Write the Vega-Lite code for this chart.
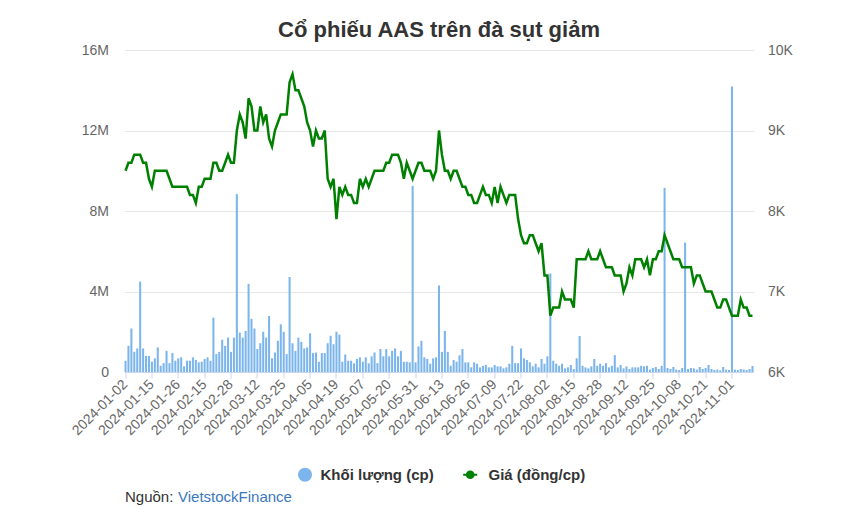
{
"$schema":"https://vega.github.io/schema/vega-lite/v6.json",
"width":629,"height":322,
"autosize":{"type":"none"},
"padding":{"left":124.5,"top":50,"right":92.5,"bottom":160},
"background":"white",
"title":{"text":"Cổ phiếu AAS trên đà sụt giảm","fontSize":22,"font":"Liberation Sans","fontWeight":"bold","color":"#333333","anchor":"middle","offset":14,"baseline":"alphabetic","dy":30},
"config":{"view":{"stroke":null},"font":"Liberation Sans"},
"data":{"values":[
{"d":"2024-01-02","v":560000,"p":8500},{"d":"2024-01-03","v":1300000,"p":8600},{"d":"2024-01-04","v":2160000,"p":8600},{"d":"2024-01-05","v":1000000,"p":8700},{"d":"2024-01-08","v":1170000,"p":8700},{"d":"2024-01-09","v":4490000,"p":8700},{"d":"2024-01-10","v":1170000,"p":8600},{"d":"2024-01-11","v":800000,"p":8600},{"d":"2024-01-12","v":800000,"p":8400},{"d":"2024-01-15","v":510000,"p":8300},
{"d":"2024-01-16","v":680000,"p":8500},{"d":"2024-01-17","v":1220000,"p":8500},{"d":"2024-01-18","v":310000,"p":8500},{"d":"2024-01-19","v":440000,"p":8500},{"d":"2024-01-22","v":1050000,"p":8500},{"d":"2024-01-23","v":440000,"p":8400},{"d":"2024-01-24","v":940000,"p":8300},{"d":"2024-01-25","v":560000,"p":8300},{"d":"2024-01-26","v":680000,"p":8300},{"d":"2024-01-29","v":730000,"p":8300},
{"d":"2024-01-30","v":280000,"p":8300},{"d":"2024-01-31","v":560000,"p":8300},{"d":"2024-02-01","v":560000,"p":8200},{"d":"2024-02-02","v":730000,"p":8200},{"d":"2024-02-05","v":600000,"p":8100},{"d":"2024-02-06","v":480000,"p":8300},{"d":"2024-02-07","v":510000,"p":8300},{"d":"2024-02-15","v":650000,"p":8400},{"d":"2024-02-16","v":730000,"p":8400},{"d":"2024-02-19","v":560000,"p":8400},
{"d":"2024-02-20","v":2700000,"p":8600},{"d":"2024-02-21","v":890000,"p":8600},{"d":"2024-02-22","v":1000000,"p":8500},{"d":"2024-02-23","v":1600000,"p":8500},{"d":"2024-02-26","v":1300000,"p":8600},{"d":"2024-02-27","v":1710000,"p":8700},{"d":"2024-02-28","v":1000000,"p":8600},{"d":"2024-02-29","v":1710000,"p":8600},{"d":"2024-03-01","v":8840000,"p":9000},{"d":"2024-03-04","v":1960000,"p":9200},
{"d":"2024-03-05","v":1710000,"p":9100},{"d":"2024-03-06","v":2040000,"p":8900},{"d":"2024-03-07","v":4380000,"p":9400},{"d":"2024-03-08","v":2650000,"p":9300},{"d":"2024-03-11","v":2160000,"p":9000},{"d":"2024-03-12","v":1140000,"p":9000},{"d":"2024-03-13","v":1430000,"p":9300},{"d":"2024-03-14","v":2000000,"p":9100},{"d":"2024-03-15","v":1710000,"p":9200},{"d":"2024-03-18","v":2780000,"p":8900},
{"d":"2024-03-19","v":680000,"p":8800},{"d":"2024-03-20","v":970000,"p":9000},{"d":"2024-03-21","v":1550000,"p":9100},{"d":"2024-03-22","v":2370000,"p":9200},{"d":"2024-03-25","v":2000000,"p":9200},{"d":"2024-03-26","v":890000,"p":9200},{"d":"2024-03-27","v":4720000,"p":9600},{"d":"2024-03-28","v":1430000,"p":9700},{"d":"2024-03-29","v":1050000,"p":9500},{"d":"2024-04-01","v":1710000,"p":9500},
{"d":"2024-04-02","v":1500000,"p":9400},{"d":"2024-04-03","v":1170000,"p":9300},{"d":"2024-04-04","v":1220000,"p":9100},{"d":"2024-04-05","v":1920000,"p":9000},{"d":"2024-04-08","v":940000,"p":8800},{"d":"2024-04-09","v":970000,"p":9000},{"d":"2024-04-10","v":510000,"p":8900},{"d":"2024-04-11","v":940000,"p":8900},{"d":"2024-04-12","v":940000,"p":9000},{"d":"2024-04-15","v":1430000,"p":8400},
{"d":"2024-04-16","v":1800000,"p":8300},{"d":"2024-04-17","v":1380000,"p":8400},{"d":"2024-04-19","v":2000000,"p":7900},{"d":"2024-04-22","v":1860000,"p":8300},{"d":"2024-04-23","v":510000,"p":8200},{"d":"2024-04-24","v":870000,"p":8300},{"d":"2024-04-25","v":560000,"p":8200},{"d":"2024-04-26","v":560000,"p":8200},{"d":"2024-05-02","v":430000,"p":8100},{"d":"2024-05-03","v":650000,"p":8100},
{"d":"2024-05-06","v":730000,"p":8400},{"d":"2024-05-07","v":510000,"p":8300},{"d":"2024-05-08","v":730000,"p":8400},{"d":"2024-05-09","v":430000,"p":8300},{"d":"2024-05-10","v":780000,"p":8400},{"d":"2024-05-13","v":970000,"p":8500},{"d":"2024-05-14","v":440000,"p":8500},{"d":"2024-05-15","v":1140000,"p":8500},{"d":"2024-05-16","v":780000,"p":8500},{"d":"2024-05-17","v":1140000,"p":8600},
{"d":"2024-05-20","v":780000,"p":8600},{"d":"2024-05-21","v":1050000,"p":8700},{"d":"2024-05-22","v":1170000,"p":8700},{"d":"2024-05-23","v":780000,"p":8700},{"d":"2024-05-24","v":1050000,"p":8600},{"d":"2024-05-27","v":510000,"p":8400},{"d":"2024-05-28","v":510000,"p":8600},{"d":"2024-05-29","v":480000,"p":8500},{"d":"2024-05-30","v":9250000,"p":8400},{"d":"2024-05-31","v":480000,"p":8500},
{"d":"2024-06-03","v":1270000,"p":8600},{"d":"2024-06-04","v":1550000,"p":8600},{"d":"2024-06-05","v":730000,"p":8500},{"d":"2024-06-06","v":650000,"p":8500},{"d":"2024-06-07","v":410000,"p":8500},{"d":"2024-06-10","v":680000,"p":8400},{"d":"2024-06-11","v":730000,"p":8500},{"d":"2024-06-12","v":4300000,"p":9000},{"d":"2024-06-13","v":1000000,"p":8700},{"d":"2024-06-14","v":2040000,"p":8500},
{"d":"2024-06-17","v":1000000,"p":8500},{"d":"2024-06-18","v":310000,"p":8400},{"d":"2024-06-19","v":600000,"p":8500},{"d":"2024-06-20","v":510000,"p":8500},{"d":"2024-06-21","v":830000,"p":8400},{"d":"2024-06-24","v":1140000,"p":8300},{"d":"2024-06-25","v":480000,"p":8300},{"d":"2024-06-26","v":480000,"p":8200},{"d":"2024-06-27","v":230000,"p":8200},{"d":"2024-06-28","v":480000,"p":8100},
{"d":"2024-07-01","v":410000,"p":8100},{"d":"2024-07-02","v":230000,"p":8200},{"d":"2024-07-03","v":310000,"p":8300},{"d":"2024-07-04","v":350000,"p":8200},{"d":"2024-07-05","v":230000,"p":8200},{"d":"2024-07-08","v":230000,"p":8100},{"d":"2024-07-09","v":350000,"p":8300},{"d":"2024-07-10","v":280000,"p":8100},{"d":"2024-07-11","v":280000,"p":8300},{"d":"2024-07-12","v":180000,"p":8200},
{"d":"2024-07-15","v":230000,"p":8100},{"d":"2024-07-16","v":410000,"p":8200},{"d":"2024-07-17","v":1300000,"p":8200},{"d":"2024-07-18","v":440000,"p":8200},{"d":"2024-07-19","v":440000,"p":7900},{"d":"2024-07-22","v":1170000,"p":7700},{"d":"2024-07-23","v":680000,"p":7600},{"d":"2024-07-24","v":600000,"p":7600},{"d":"2024-07-25","v":480000,"p":7700},{"d":"2024-07-26","v":280000,"p":7700},
{"d":"2024-07-29","v":410000,"p":7600},{"d":"2024-07-30","v":230000,"p":7500},{"d":"2024-07-31","v":650000,"p":7600},{"d":"2024-08-01","v":410000,"p":7200},{"d":"2024-08-02","v":780000,"p":7200},{"d":"2024-08-05","v":4900000,"p":6700},{"d":"2024-08-06","v":560000,"p":6800},{"d":"2024-08-07","v":410000,"p":6800},{"d":"2024-08-08","v":310000,"p":6800},{"d":"2024-08-09","v":410000,"p":7000},
{"d":"2024-08-12","v":180000,"p":6900},{"d":"2024-08-13","v":230000,"p":6900},{"d":"2024-08-14","v":350000,"p":6900},{"d":"2024-08-15","v":150000,"p":6800},{"d":"2024-08-16","v":680000,"p":7400},{"d":"2024-08-19","v":1790000,"p":7400},{"d":"2024-08-20","v":310000,"p":7400},{"d":"2024-08-21","v":230000,"p":7400},{"d":"2024-08-22","v":180000,"p":7500},{"d":"2024-08-23","v":280000,"p":7400},
{"d":"2024-08-26","v":650000,"p":7400},{"d":"2024-08-27","v":310000,"p":7400},{"d":"2024-08-28","v":410000,"p":7500},{"d":"2024-08-29","v":310000,"p":7400},{"d":"2024-08-30","v":440000,"p":7300},{"d":"2024-09-04","v":230000,"p":7300},{"d":"2024-09-05","v":310000,"p":7300},{"d":"2024-09-06","v":840000,"p":7200},{"d":"2024-09-09","v":230000,"p":7200},{"d":"2024-09-10","v":350000,"p":7200},
{"d":"2024-09-11","v":180000,"p":7000},{"d":"2024-09-12","v":280000,"p":7100},{"d":"2024-09-13","v":150000,"p":7300},{"d":"2024-09-16","v":230000,"p":7200},{"d":"2024-09-17","v":230000,"p":7400},{"d":"2024-09-18","v":230000,"p":7400},{"d":"2024-09-19","v":310000,"p":7400},{"d":"2024-09-20","v":280000,"p":7300},{"d":"2024-09-23","v":310000,"p":7400},{"d":"2024-09-24","v":120000,"p":7200},
{"d":"2024-09-25","v":200000,"p":7400},{"d":"2024-09-26","v":250000,"p":7400},{"d":"2024-09-27","v":150000,"p":7500},{"d":"2024-09-30","v":300000,"p":7500},{"d":"2024-10-01","v":9150000,"p":7700},{"d":"2024-10-02","v":200000,"p":7600},{"d":"2024-10-03","v":150000,"p":7500},{"d":"2024-10-04","v":250000,"p":7400},{"d":"2024-10-07","v":120000,"p":7400},{"d":"2024-10-08","v":100000,"p":7400},
{"d":"2024-10-09","v":200000,"p":7300},{"d":"2024-10-10","v":6430000,"p":7300},{"d":"2024-10-11","v":150000,"p":7300},{"d":"2024-10-14","v":200000,"p":7300},{"d":"2024-10-15","v":180000,"p":7100},{"d":"2024-10-16","v":120000,"p":7200},{"d":"2024-10-17","v":250000,"p":7200},{"d":"2024-10-18","v":150000,"p":7100},{"d":"2024-10-21","v":200000,"p":7000},{"d":"2024-10-22","v":350000,"p":7000},
{"d":"2024-10-23","v":150000,"p":7000},{"d":"2024-10-24","v":100000,"p":6900},{"d":"2024-10-25","v":120000,"p":6800},{"d":"2024-10-28","v":80000,"p":6800},{"d":"2024-10-29","v":250000,"p":6900},{"d":"2024-10-30","v":120000,"p":6900},{"d":"2024-10-31","v":100000,"p":6800},{"d":"2024-11-01","v":14190000,"p":6700},{"d":"2024-11-04","v":120000,"p":6700},{"d":"2024-11-05","v":100000,"p":6700},
{"d":"2024-11-06","v":150000,"p":6900},{"d":"2024-11-07","v":120000,"p":6800},{"d":"2024-11-08","v":100000,"p":6800},{"d":"2024-11-11","v":150000,"p":6700},{"d":"2024-11-12","v":300000,"p":6700}
]},
"encoding":{
 "x":{"field":"d","type":"ordinal","sort":null,
  "scale":{"paddingInner":0.3,"paddingOuter":0},
  "axis":{"values":["2024-01-02","2024-01-15","2024-01-26","2024-02-15","2024-02-28","2024-03-12","2024-03-25","2024-04-05","2024-04-19","2024-05-07","2024-05-20","2024-05-31","2024-06-13","2024-06-26","2024-07-09","2024-07-22","2024-08-02","2024-08-15","2024-08-28","2024-09-12","2024-09-25","2024-10-08","2024-10-21","2024-11-01"],
   "labelAngle":-45,"labelAlign":"right","labelBaseline":"middle","labelOverlap":false,"labelFontSize":14,"labelColor":"#666666","labelFont":"Liberation Sans","labelPadding":4,
   "tickColor":"#ccd6eb","tickSize":6,"domainColor":"#ccd6eb","grid":false,
   "title":"Nguồn:","titleX":0,"titleY":124,"titleAlign":"left","titleBaseline":"middle","titleAngle":0,"titleFontSize":15,"titleFontWeight":"normal","titleColor":"#333333","titleFont":"Liberation Sans"}}
},
"layer":[
 {"mark":{"type":"bar"},
  "encoding":{
   "y":{"field":"v","type":"quantitative","scale":{"domain":[0,16000000],"nice":false},
    "axis":{"values":[0,4000000,8000000,12000000,16000000],"labelExpr":"datum.value == 0 ? '0' : (datum.value/1000000) + 'M'",
     "domain":false,"ticks":false,"grid":true,"gridColor":"#e6e6e6","labelFontSize":14,"labelColor":"#666666","labelFont":"Liberation Sans","labelPadding":16,
     "title":"VietstockFinance","titleX":53,"titleY":446,"titleAngle":0,"titleAlign":"left","titleBaseline":"middle","titleFontSize":15,"titleFontWeight":"normal","titleColor":"#3a78c0","titleFont":"Liberation Sans"}},
   "color":{"datum":"Khối lượng (cp)","type":"nominal",
    "scale":{"domain":["Khối lượng (cp)","Giá (đồng/cp)"],"range":["#7cb5ec","#008000"]},
    "legend":{"orient":"none","legendX":173,"legendY":417,"direction":"horizontal","title":null,"labelFontSize":15,"labelFontWeight":"bold","labelColor":"#333333","labelFont":"Liberation Sans","symbolSize":196,"labelOffset":8,"columnPadding":24,"padding":0,
     "encode":{"symbols":{"update":{
      "shape":{"signal":"datum.value === 'Giá (đồng/cp)' ? 'M-1.4,0L0.6,0M-0.88,0A0.48,0.48,0,1,0,0.08,0A0.48,0.48,0,1,0,-0.88,0Z' : 'circle'"},
      "fill":{"scale":"color","field":"value"},
      "stroke":{"scale":"color","field":"value"},
      "strokeWidth":{"signal":"datum.value === 'Giá (đồng/cp)' ? 2 : 0"},
      "opacity":{"value":1},"fillOpacity":{"value":1}}}}}}
  }},
 {"mark":{"type":"line","strokeWidth":2.5},
  "encoding":{
   "y":{"field":"p","type":"quantitative","scale":{"domain":[6000,10000],"nice":false},
    "axis":{"orient":"right","values":[6000,7000,8000,9000,10000],"labelExpr":"(datum.value/1000) + 'K'","title":null,
     "domain":false,"ticks":false,"grid":false,"labelFontSize":14,"labelColor":"#666666","labelFont":"Liberation Sans","labelPadding":14}},
   "color":{"datum":"Giá (đồng/cp)","type":"nominal"}
  }}
],
"resolve":{"scale":{"y":"independent"}}
}
